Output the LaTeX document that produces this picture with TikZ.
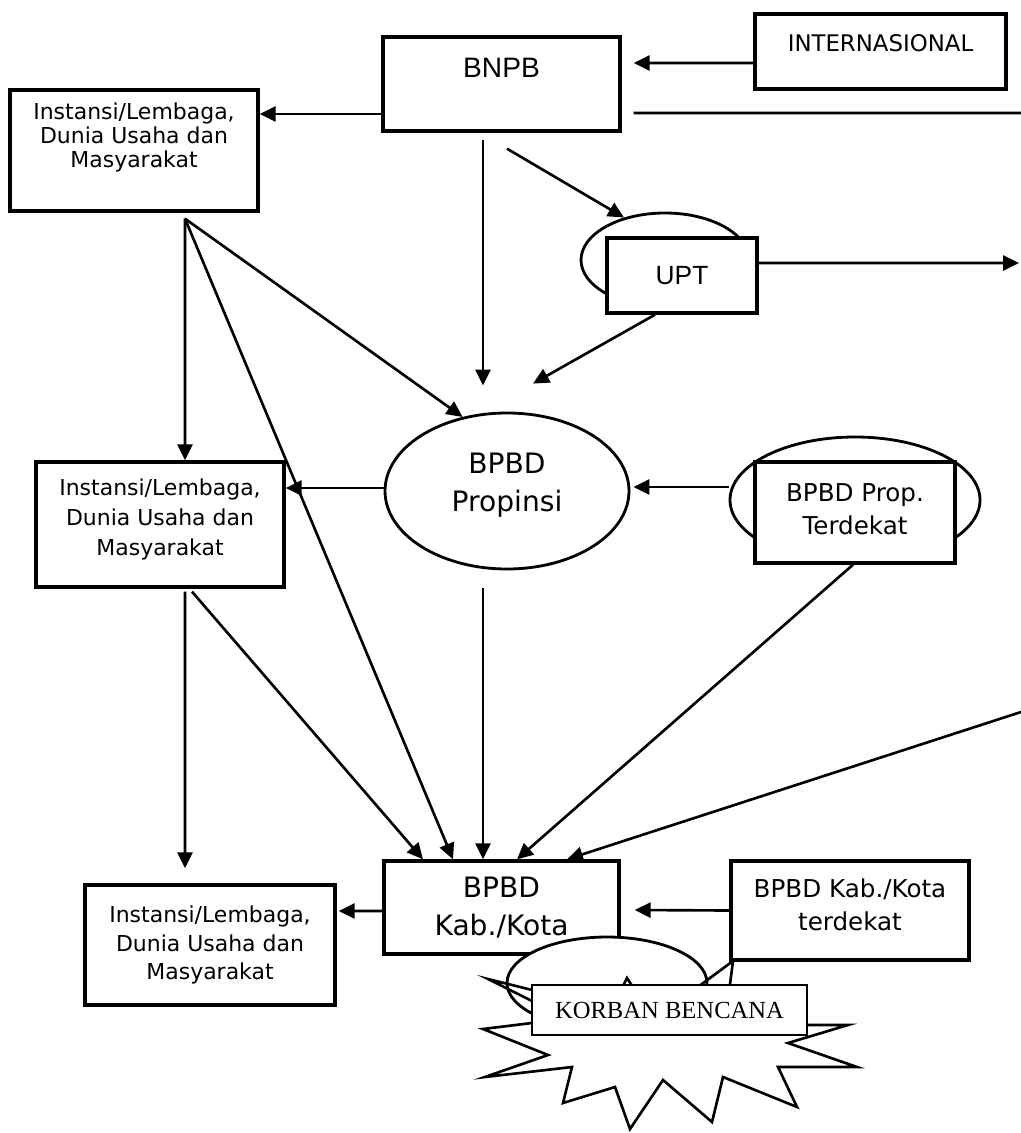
\documentclass[tikz,border=0pt]{standalone}
\usepackage{fontspec}
\setmainfont{DejaVu Sans}
\newfontfamily\arialfont{Liberation Sans}
\newfontfamily\timesfont{Liberation Serif}
\usetikzlibrary{arrows.meta, shapes.geometric}

\tikzset{
	kotak/.style = {draw, line width=1.9pt, fill=white, inner sep=3pt, align=center},
	elips/.style = {ellipse, draw, line width=1.6pt, fill=white, inner sep=0pt, align=center},
	fkecil/.style = {font=\fontsize{12.5}{13.7}\selectfont},
	fsedang/.style = {font=\fontsize{14}{18.8}\selectfont},
	fbesar/.style = {font=\fontsize{16}{21.5}\selectfont}
}

\begin{document}
\begin{tikzpicture}[line width=1.5pt, >={Triangle[length=0.32cm,width=0.3cm]}]
	\useasboundingbox (0cm, 0cm) rectangle (20.42cm, -22.66cm);
	\coordinate (tepiA) at (20.42cm, -2.26cm);
	\coordinate (tepiB) at (20.38cm, -5.26cm);
	\coordinate (tepiC) at (20.42cm, -14.24cm);

	\draw (10.03cm, -1.68cm) node[kotak, minimum width=4.74cm, minimum height=1.88cm, font=\arialfont\fontsize{16}{19}\selectfont, text height=0.42cm, text depth=0.66cm] (bnpb) {BNPB}
	(17.61cm, -1.03cm) node[kotak, minimum width=5.02cm, minimum height=1.5cm, font=\fontsize{13}{15}\selectfont, text height=0.34cm, text depth=0.35cm] (intl) {INTERNASIONAL}
	(2.68cm, -3.01cm) node[kotak, fkecil, minimum width=4.96cm, minimum height=2.42cm, text depth=0.6cm] (ins1) {Instansi/Lembaga,\\ Dunia Usaha dan\\ Masyarakat}
	(13.3cm, -5.2cm) node[elips, minimum width=3.36cm, minimum height=1.88cm] (uptel) {}
	(13.64cm, -5.51cm) node[kotak, minimum width=3.0cm, minimum height=1.5cm, font=\arialfont\fontsize{15}{18}\selectfont] (upt) {UPT}
	(10.14cm, -9.82cm) node[elips, fbesar, minimum width=4.88cm, minimum height=3.12cm, text depth=0.36cm] (prov) {BPBD\\ Propinsi}
	(3.2cm, -10.49cm) node[kotak, font=\fontsize{12.5}{17}\selectfont, minimum width=4.96cm, minimum height=2.5cm, text depth=0.28cm] (ins2) {Instansi/Lembaga,\\ Dunia Usaha dan\\ Masyarakat}
	(17.1cm, -10.0cm) node[elips, minimum width=5.0cm, minimum height=2.52cm] (terdel) {}
	(17.1cm, -10.25cm) node[kotak, fsedang, minimum width=4.0cm, minimum height=2.02cm, text depth=0.14cm] (terd) {BPBD Prop.\\ Terdekat}
	(4.2cm, -18.9cm) node[kotak, font=\fontsize{12.5}{16.2}\selectfont, minimum width=5.0cm, minimum height=2.4cm] (ins3) {Instansi/Lembaga,\\ Dunia Usaha dan\\ Masyarakat}
	(10.03cm, -18.15cm) node[kotak, fbesar, minimum width=4.7cm, minimum height=1.86cm, text depth=0.05cm] (kab) {BPBD\\ Kab./Kota}
	(17.0cm, -18.21cm) node[kotak, fsedang, minimum width=4.76cm, minimum height=1.98cm, text depth=0.22cm] (kabt) {BPBD Kab./Kota\\ terdekat}
	(12.14cm, -19.66cm) node[elips, minimum width=4.0cm, minimum height=1.84cm] (korel) {};

	\draw[line width=1.5pt, line join=miter] (16.00cm, -20.50cm) -- (16.96cm, -20.50cm) -- (15.76cm, -20.86cm) -- (17.14cm, -21.34cm)
	-- (15.56cm, -21.34cm) -- (15.94cm, -22.14cm) -- (14.46cm, -21.54cm) -- (14.24cm, -22.44cm)
	-- (13.26cm, -21.60cm) -- (12.60cm, -22.58cm) -- (12.30cm, -21.74cm) -- (11.26cm, -22.06cm)
	-- (11.44cm, -21.34cm) -- (9.70cm, -21.54cm) -- (10.96cm, -21.10cm) -- (9.66cm, -20.58cm)
	-- (10.80cm, -20.44cm) -- (10.80cm, -20.10cm) -- (9.76cm, -19.58cm) -- (10.80cm, -19.84cm)
	-- (12.40cm, -19.84cm) -- (12.54cm, -19.56cm) -- (12.72cm, -19.84cm) -- (13.82cm, -19.84cm)
	-- (14.66cm, -19.22cm) -- (14.58cm, -19.84cm) -- (16.00cm, -20.00cm) -- cycle;

	\draw (13.39cm, -20.2cm) node[kotak, line width=1.6pt, minimum width=5.5cm, minimum height=1.0cm, font=\timesfont\fontsize{14}{16}\selectfont] (korban) {KORBAN BENCANA};

	\draw[->] ([yshift=-0.23cm]intl.west) -- ([xshift=0.24cm,yshift=0.42cm]bnpb.east);
	\draw ([xshift=0.24cm,yshift=-0.58cm]bnpb.east) -- (tepiA);
	\draw[->] ([yshift=-0.6cm]bnpb.west) -- ([yshift=0.73cm]ins1.east);
	\draw[->] ([xshift=-0.37cm,yshift=-0.14cm]bnpb.south) -- ([xshift=-0.48cm,yshift=0.52cm]prov.north);
	\draw[->] ([xshift=0.11cm,yshift=-0.32cm]bnpb.south) -- (uptel.134);
	\draw[->] ([yshift=0.25cm]upt.east) -- (tepiB);
	\draw[->] ([xshift=-0.54cm]upt.south) -- ([xshift=0.52cm,yshift=0.56cm]prov.north);
	\draw[->] ([xshift=1.02cm,yshift=-0.12cm]ins1.south) -- ([xshift=0.5cm]ins2.north);
	\draw[->] ([xshift=1.02cm,yshift=-0.12cm]ins1.south) -- (prov.121);
	\draw[->] ([xshift=1.02cm,yshift=-0.12cm]ins1.south) -- ([xshift=-0.97cm]kab.north);
	\draw[->] ([yshift=0.06cm]prov.west) -- ([yshift=0.73cm]ins2.east);
	\draw[->] ([yshift=0.26cm]terdel.west) -- ([xshift=0.06cm,yshift=0.08cm]prov.east);
	\draw[->] ([xshift=-0.48cm,yshift=-0.36cm]prov.south) -- ([xshift=-0.37cm]kab.north);
	\draw[->] ([xshift=-0.04cm]terd.south) -- ([xshift=0.31cm]kab.north);
	\draw[->] (tepiC) -- ([xshift=1.31cm]kab.north);
	\draw[->] ([xshift=0.5cm,yshift=-0.06cm]ins2.south) -- ([xshift=-0.5cm,yshift=0.3cm]ins3.north);
	\draw[->] ([xshift=0.64cm,yshift=-0.06cm]ins2.south) -- ([xshift=-1.57cm]kab.north);
	\draw[->] ([yshift=-0.07cm]kab.west) -- ([xshift=0.04cm,yshift=0.68cm]ins3.east);
	\draw[->] (kabt.west) -- ([xshift=0.28cm,yshift=-0.05cm]kab.east);
\end{tikzpicture}
\end{document}
